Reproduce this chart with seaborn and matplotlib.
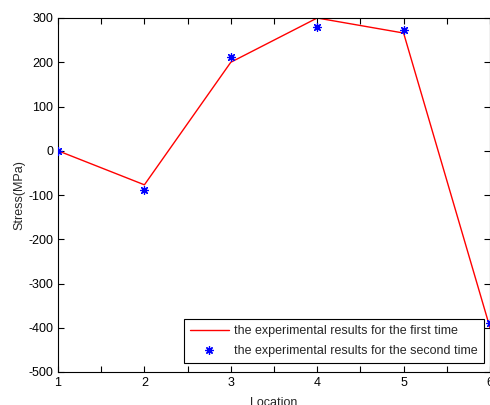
import matplotlib
matplotlib.use('Agg')
import matplotlib.pyplot as plt
from matplotlib.ticker import MultipleLocator
from matplotlib.lines import Line2D
import seaborn as sns

# measured stress at each location
locations = [1, 2, 3, 4, 5, 6]
first_time = [0, -77, 200, 300, 266, -400]
second_time = [0, -89, 211, 280, 274, -390]

sns.set_style('ticks')
plt.rcParams['font.family'] = ['Liberation Sans', 'DejaVu Sans']
plt.rcParams['axes.unicode_minus'] = False

fig = plt.figure(figsize=(4.9, 4.05), dpi=100)
ax = fig.add_axes([58 / 490, 33 / 405, 432 / 490, 354 / 405])

sns.lineplot(x=locations, y=first_time, color='#ff0000', linewidth=1.0, ax=ax)
sns.scatterplot(x=locations, y=second_time, marker=(8, 2, 0), color='#0000ff',
                s=32, linewidth=0.9, edgecolor='#0000ff', ax=ax, zorder=3)

ax.set_xlim(1, 6)
ax.set_ylim(-500, 300)
ax.xaxis.set_major_locator(MultipleLocator(1))
ax.xaxis.set_minor_locator(MultipleLocator(0.5))
ax.yaxis.set_major_locator(MultipleLocator(100))
ax.tick_params(which='both', direction='in', top=True, right=True,
               length=4, width=0.8, labelsize=9, colors='black')
for s in ax.spines.values():
    s.set_visible(True)
    s.set_linewidth(0.8)
    s.set_color('black')

ax.set_xlabel('Location', fontsize=9, labelpad=6)
ax.set_ylabel('Stress(MPa)', fontsize=9, labelpad=2)

handles = [
    Line2D([], [], color='#ff0000', linewidth=1.0),
    Line2D([], [], color='#0000ff', marker=(8, 2, 0), linestyle='',
           markersize=6, markeredgewidth=0.9),
]
ax.legend(handles, ['the experimental results for the first time',
                    'the experimental results for the second time'],
          loc='lower right', bbox_to_anchor=(0.985, 0.025), borderaxespad=0,
          fontsize=9, frameon=True, fancybox=False, edgecolor='black',
          framealpha=1, borderpad=0.5, handlelength=3.1, handletextpad=0.4,
          labelspacing=0.6)
ax.get_legend().get_frame().set_linewidth(0.8)

fig.savefig('out.png', dpi=100)
